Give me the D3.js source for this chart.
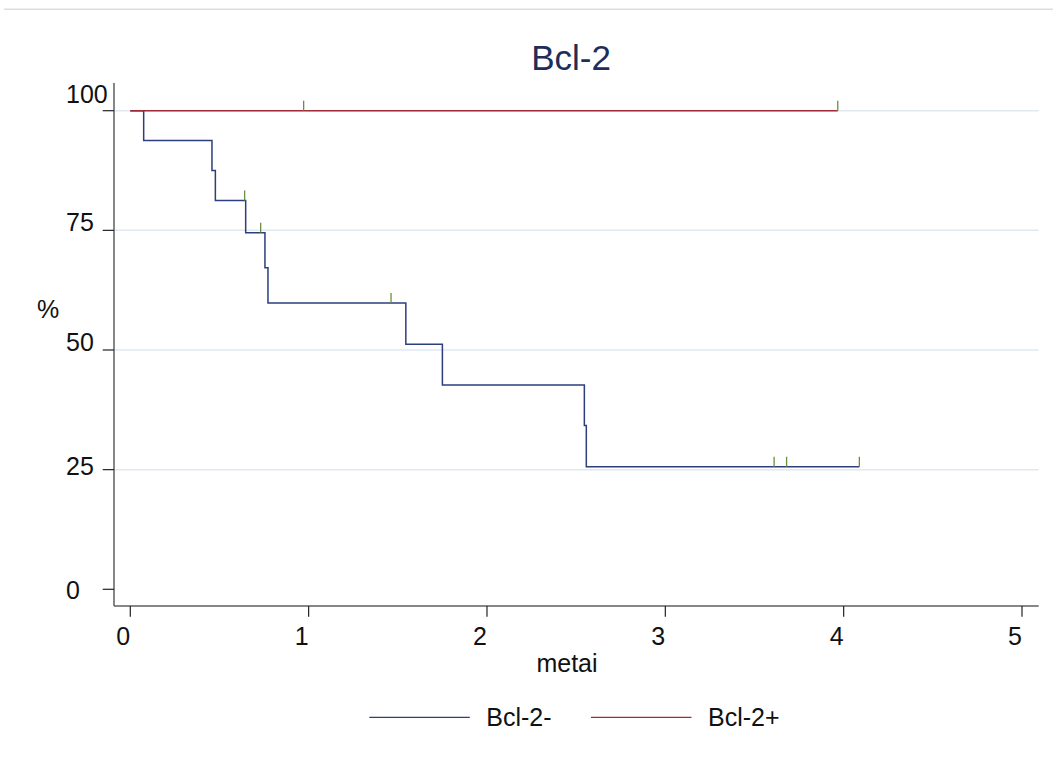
<!DOCTYPE html>
<html>
<head>
<meta charset="utf-8">
<script src="https://cdn.jsdelivr.net/npm/d3@7"></script>
<style>
  html, body { margin: 0; padding: 0; background: #fff; }
  svg { display: block; font-family: "Liberation Sans", Arial, sans-serif; }
</style>
</head>
<body>
<svg id="chart" width="1053" height="773"></svg>
<script>
// ---- data ----
const title = "Bcl-2";
const xLabel = "metai";
const yLabel = "%";
const xTicks = [0, 1, 2, 3, 4, 5];
const yTicks = [0, 25, 50, 75, 100];
const gridValues = [25, 50, 75, 100];
const seriesNames = ["Bcl-2-", "Bcl-2+"];

// Bcl-2- Kaplan–Meier steps (time in years, survival %)
const negTimes = [0, 0.075, 0.458, 0.477, 0.647, 0.755, 0.772, 1.545, 1.75, 2.546, 2.557, 4.088];
const negSurv  = [100, 93.75, 87.5, 81.25, 74.5, 67.2, 59.8, 51.2, 42.7, 34.2, 25.6, 25.6];
const negCensorTimes = [0.641, 0.731, 1.462, 3.61, 3.68, 4.088];

// Bcl-2+ steps
const posTimes = [0, 3.967];
const posSurv  = [100, 100];
const posCensorTimes = [0.972, 3.967];

// ---- layout ----
const svg = d3.select("#chart");
const x = d3.scaleLinear().domain([0, 5]).range([130.3, 1022]);
const y = d3.scaleLinear().domain([0, 100]).range([589.3, 110.7]);
const axisLeftX = 114, axisBottomY = 606, plotRight = 1038.7, axisTopY = 83;
// baseline nudges for y tick labels (as rendered in the reference)
const yLabelBaseline = v => (v === 100 ? -8 : v === 0 ? 9.5 : v === 25 ? 5 : 0.5);

const colNeg = "#2c3f7c", colPos = "#a02a36", colCensor = "#6b8f3a";
const axisCol = "#5f5f5f";

// top border line
svg.append("line").attr("x1", 4).attr("x2", 1053).attr("y1", 9.3).attr("y2", 9.3)
  .attr("stroke", "#dcdce6").attr("stroke-width", 1.5);

// gridlines
svg.append("g").selectAll("line").data(gridValues).join("line")
  .attr("x1", axisLeftX).attr("x2", plotRight)
  .attr("y1", d => y(d)).attr("y2", d => y(d))
  .attr("stroke", "#e1e8f2").attr("stroke-width", 1.5);

// y axis
svg.append("line").attr("x1", axisLeftX).attr("x2", axisLeftX)
  .attr("y1", axisTopY).attr("y2", axisBottomY).attr("stroke", axisCol).attr("stroke-width", 1.5);
const yg = svg.append("g");
yg.selectAll("line").data(yTicks).join("line")
  .attr("x1", axisLeftX - 11.3).attr("x2", axisLeftX)
  .attr("y1", d => y(d)).attr("y2", d => y(d))
  .attr("stroke", "#222").attr("stroke-width", 1.2);
yg.selectAll("text").data(yTicks).join("text")
  .attr("x", 66).attr("y", d => y(d) + yLabelBaseline(d))
  .attr("font-size", 25).attr("fill", "#111").text(d => d);

// x axis
svg.append("line").attr("x1", axisLeftX).attr("x2", plotRight)
  .attr("y1", axisBottomY).attr("y2", axisBottomY).attr("stroke", axisCol).attr("stroke-width", 1.5);
const xg = svg.append("g");
xg.selectAll("line").data(xTicks).join("line")
  .attr("x1", d => x(d)).attr("x2", d => x(d))
  .attr("y1", axisBottomY).attr("y2", axisBottomY + 10.7)
  .attr("stroke", "#222").attr("stroke-width", 1.2);
xg.selectAll("text").data(xTicks).join("text")
  .attr("x", d => x(d) - 7).attr("y", 645)
  .attr("text-anchor", "middle").attr("font-size", 25).attr("fill", "#111").text(d => d);

// axis titles
svg.append("text").attr("x", 567).attr("y", 671.5).attr("text-anchor", "middle")
  .attr("font-size", 25).attr("fill", "#111").text(xLabel);
svg.append("text").attr("x", 48).attr("y", 317.5).attr("text-anchor", "middle")
  .attr("font-size", 25).attr("fill", "#111").text(yLabel);

// title
svg.append("text").attr("x", 571).attr("y", 70).attr("text-anchor", "middle")
  .attr("font-size", 35).attr("fill", "#1e2d5a").text(title);

// curves
const line = d3.line().x(d => x(d[0])).y(d => y(d[1])).curve(d3.curveStepAfter);
const negData = negTimes.map((t, i) => [t, negSurv[i]]);
const posData = posTimes.map((t, i) => [t, posSurv[i]]);

function survAt(times, surv, t) {
  let v = surv[0];
  for (let i = 0; i < times.length; i++) if (times[i] <= t) v = surv[i];
  return v;
}

svg.append("path").datum(negData).attr("d", line)
  .attr("fill", "none").attr("stroke", colNeg).attr("stroke-width", 1.5);
svg.append("path").datum(posData).attr("d", line)
  .attr("fill", "none").attr("stroke", colPos).attr("stroke-width", 1.5);

// censor marks
const censors = negCensorTimes.map(t => [t, survAt(negTimes, negSurv, t)])
  .concat(posCensorTimes.map(t => [t, survAt(posTimes, posSurv, t)]));
svg.append("g").selectAll("line").data(censors).join("line")
  .attr("x1", d => x(d[0])).attr("x2", d => x(d[0]))
  .attr("y1", d => y(d[1])).attr("y2", d => y(d[1]) - 10)
  .attr("stroke", colCensor).attr("stroke-width", 1.3);

// legend
const legend = svg.append("g");
const legendItems = [
  { name: seriesNames[0], color: colNeg, x0: 369.3 },
  { name: seriesNames[1], color: colPos, x0: 591 }
];
legendItems.forEach(it => {
  legend.append("line").attr("x1", it.x0).attr("x2", it.x0 + 100.5)
    .attr("y1", 717.3).attr("y2", 717.3).attr("stroke", it.color).attr("stroke-width", 1.3);
  legend.append("text").attr("x", it.x0 + 117).attr("y", 725.5)
    .attr("font-size", 25).attr("fill", "#111").text(it.name);
});
</script>
</body>
</html>
